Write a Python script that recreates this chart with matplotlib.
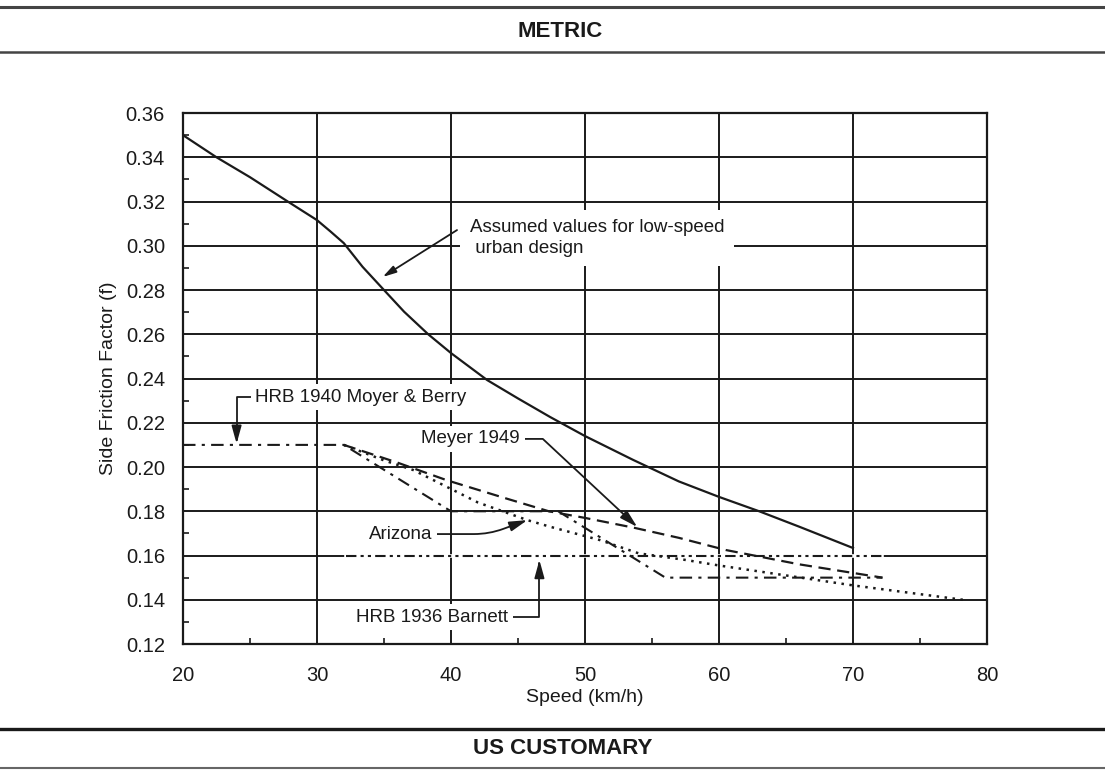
import numpy as np
import matplotlib
matplotlib.use('Agg')
import matplotlib.pyplot as plt
from matplotlib.lines import Line2D
from matplotlib.ticker import MultipleLocator

plt.rcParams['font.family'] = ['Liberation Sans', 'DejaVu Sans']

# values
assumed_speed = [20, 22.5, 25, 28, 30, 31, 32, 33.4, 35, 36.5, 38.3, 40, 42.7, 45, 47.4, 50, 53.6,
                 57, 60, 63, 66, 70]
assumed_f = [0.350, 0.340, 0.331, 0.3193, 0.3116, 0.3065, 0.3012, 0.2905, 0.280, 0.2702, 0.260,
             0.2515, 0.2393, 0.231, 0.2226, 0.2140, 0.2032, 0.1935, 0.1865, 0.180, 0.173, 0.1634]

moyer_speed = [20, 32, 40, 48, 56, 72.2]
moyer_f = [0.21, 0.21, 0.18, 0.18, 0.15, 0.15]

meyer_speed = [32, 36, 39.7, 44, 47.3, 50, 53.7, 57, 60.5, 66, 72.2]
meyer_f = [0.21, 0.202, 0.194, 0.186, 0.180, 0.177, 0.1725, 0.168, 0.1625, 0.156, 0.150]

arizona_speed = [32, 35, 37.2, 39.7, 42, 45.7, 47.4, 51.1, 54, 57.5, 60, 65, 70, 78.2]
arizona_f = [0.21, 0.203, 0.1986, 0.191, 0.184, 0.176, 0.173, 0.167, 0.161, 0.158, 0.1555, 0.151,
             0.1465, 0.140]

barnett_speed = [32.2, 72.2]
barnett_f = [0.16, 0.16]

fig = plt.figure(figsize=(11.05, 7.71), dpi=100)
ax = fig.add_axes([0.1656, 0.1647, 0.7276, 0.6887])

ink = '#1a1a1a'
ax.plot(assumed_speed, assumed_f, color=ink, lw=1.6, zorder=4)
ax.plot(moyer_speed, moyer_f, color=ink, lw=1.5, ls=(0, (6, 3, 1.5, 3)), zorder=4)
ax.plot(meyer_speed, meyer_f, color=ink, lw=1.6, ls=(0, (5.5, 3)), zorder=4)
ax.plot(arizona_speed, arizona_f, color=ink, lw=1.8, ls=(0, (1, 2.2)), zorder=4)
# Barnett runs on the 0.16 grid line; blank the grid under it first
ax.plot(barnett_speed, barnett_f, color='white', lw=2.6, zorder=3)
ax.plot(barnett_speed, barnett_f, color=ink, lw=1.5, ls=(0, (5, 2, 1.5, 2, 1.5, 2)), zorder=4)

ax.set_xlim(20, 80)
ax.set_ylim(0.12, 0.36)
ax.xaxis.set_major_locator(MultipleLocator(10))
ax.xaxis.set_minor_locator(MultipleLocator(5))
ax.yaxis.set_major_locator(MultipleLocator(0.02))
ax.yaxis.set_minor_locator(MultipleLocator(0.01))
ax.yaxis.set_major_formatter(matplotlib.ticker.FormatStrFormatter('%.2f'))
ax.grid(True, which='major', color=ink, lw=1.4, zorder=1)
ax.tick_params(which='major', direction='in', length=0, labelsize=14.5, colors=ink)
ax.tick_params(axis='y', which='major', pad=13)
ax.tick_params(axis='x', which='major', pad=16)
ax.tick_params(which='minor', direction='in', length=4, width=1.2, color=ink)
ax.tick_params(which='minor', top=False, right=False)
for s in ax.spines.values():
    s.set_linewidth(1.6)
    s.set_color(ink)

ax.set_xlabel('Speed (km/h)', fontsize=14, va='center', color=ink)
ax.xaxis.set_label_coords(0.5, -0.1)
ax.set_ylabel('Side Friction Factor (f)', fontsize=14, va='center', color=ink)
ax.yaxis.set_label_coords(-0.093, 0.5)

box = dict(boxstyle='square,pad=0.25', fc='white', ec='none')
arrow = dict(arrowstyle='-|>,head_length=0.8,head_width=0.22', color=ink, lw=1.3,
             shrinkA=0, shrinkB=0)

ax.text(41.4, 0.3035, 'Assumed values for low-speed\n urban design', fontsize=13.5,
        ha='left', va='center', linespacing=1.3, color=ink, zorder=5,
        bbox=dict(boxstyle='square,pad=0.5', fc='white', ec='none'))
ax.annotate('', xy=(34.9, 0.2859), xytext=(40.45, 0.3071), arrowprops=arrow, zorder=6)

ax.annotate('HRB 1940 Moyer & Berry', xy=(24, 0.2105), xytext=(25.4, 0.2316),
            fontsize=13.5, ha='left', va='center', color=ink, bbox=box, zorder=5,
            arrowprops=dict(arrow, connectionstyle='angle,angleA=0,angleB=90,rad=0',
                            relpos=(0, 0.5)))
ax.annotate('Meyer 1949', xy=(53.9, 0.1729), xytext=(45.15, 0.2127),
            fontsize=13.5, ha='right', va='center', color=ink, bbox=box, zorder=5,
            arrowprops=dict(arrow, connectionstyle='angle,angleA=0,angleB=-43,rad=0',
                            relpos=(1, 0.5)))
ax.annotate('Arizona', xy=(45.7, 0.176), xytext=(38.6, 0.1697),
            fontsize=13.5, ha='right', va='center', color=ink, bbox=box, zorder=5,
            arrowprops=dict(arrow, connectionstyle='angle,angleA=0,angleB=20,rad=15',
                            relpos=(1, 0.5)))
ax.annotate('HRB 1936 Barnett', xy=(46.6, 0.158), xytext=(44.25, 0.1322),
            fontsize=13.5, ha='right', va='center', color=ink, bbox=box, zorder=5,
            arrowprops=dict(arrow, connectionstyle='angle,angleA=0,angleB=90,rad=0',
                            relpos=(1, 0.5)))

# section header bars
for y, w, c in [(0.9909, 2.2, '#444444'), (0.9326, 1.8, '#444444'),
                (0.0545, 2.4, ink), (0.0039, 1.5, '#666666')]:
    fig.add_artist(Line2D([0, 1], [y, y], transform=fig.transFigure, color=c, lw=w))
fig.text(0.507, 0.959, 'METRIC', fontsize=16, fontweight='bold', ha='center', va='center',
         color=ink)
fig.text(0.509, 0.0298, 'US CUSTOMARY', fontsize=16, fontweight='bold', ha='center',
         va='center', color=ink)

fig.savefig('out.png', dpi=100, facecolor='white')
